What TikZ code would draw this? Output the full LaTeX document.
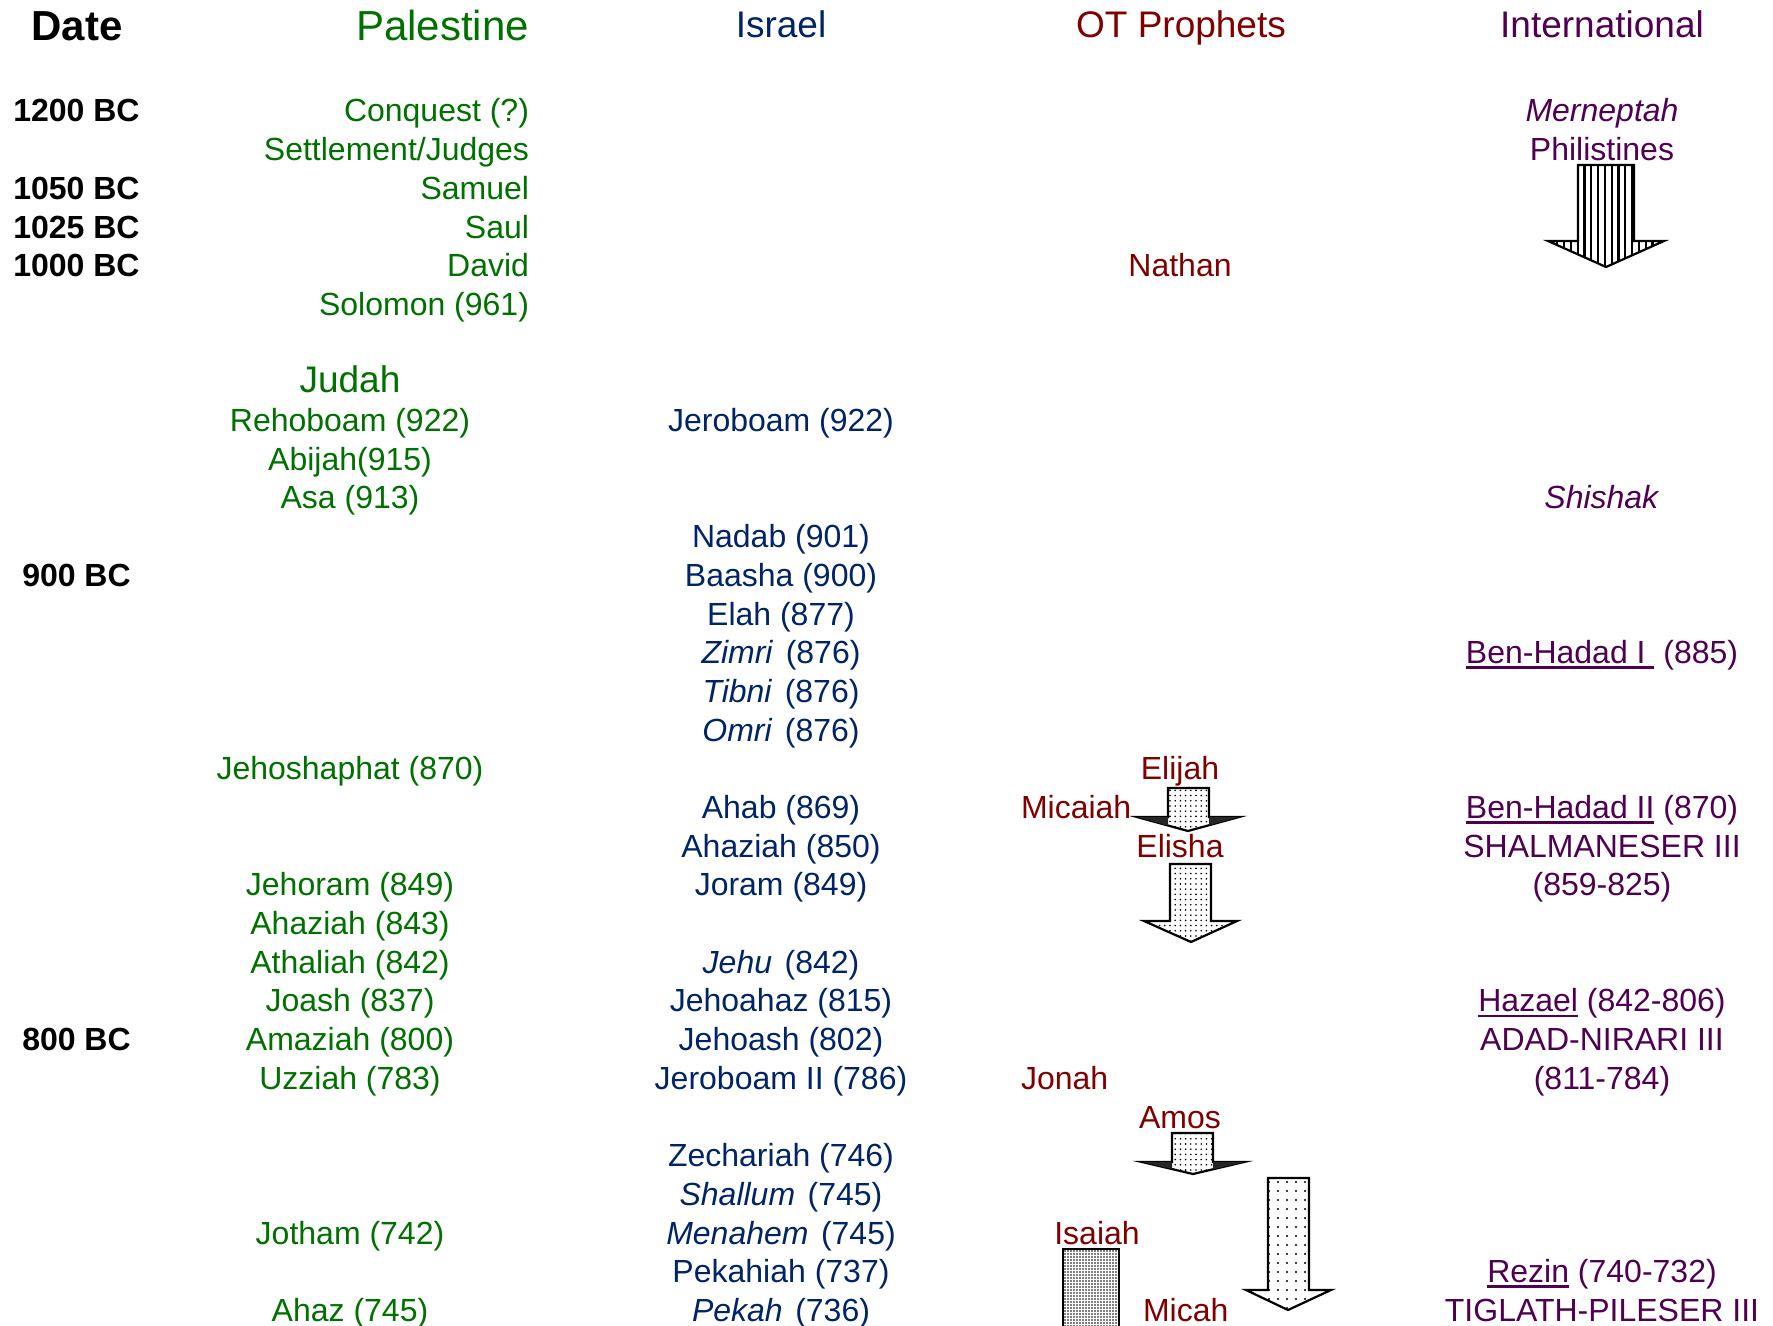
\documentclass[tikz,border=0pt]{standalone}
\usepackage{fontspec}
\setmainfont{Liberation Sans}
\usetikzlibrary{patterns,patterns.meta}
\definecolor{palc}{RGB}{0,112,0}
\definecolor{isrc}{RGB}{0,36,102}
\definecolor{proc}{RGB}{128,0,0}
\definecolor{intc}{RGB}{80,0,80}
\newsavebox\ulinbox
\newcommand\ulin[1]{\sbox\ulinbox{#1}\rlap{\rule[-2.6pt]{\wd\ulinbox}{1.3pt}}\usebox{\ulinbox}}
\newcommand\itn[1]{\textit{#1}\hspace{1.8pt}}
\newcommand\blkarrow[9]{%
  \path[#1] (#2,#4) -- (#3,#4) -- (#3,#5) -- (#7,#5) -- (#8,#9) -- (#6,#5) -- (#2,#5) -- cycle;}
\begin{document}
\begin{tikzpicture}[x=0.5pt,y=-0.5pt,
  txt/.style={inner sep=0pt, outer sep=0pt, font=\fontsize{16pt}{19pt}\selectfont},
  hdr/.style={inner sep=0pt, outer sep=0pt, anchor=base, font=\fontsize{18.5pt}{22pt}\selectfont},
  datec/.style={txt, anchor=base, text=black, font=\fontsize{16pt}{19pt}\selectfont\bfseries},
  palt/.style={txt, anchor=base east, text=palc},
  judt/.style={txt, anchor=base, text=palc},
  isrt/.style={txt, anchor=base, text=isrc},
  prot/.style={txt, anchor=base, text=proc},
  prol/.style={txt, anchor=base west, text=proc},
  intt/.style={txt, anchor=base, text=intc},
  arrowbase/.style={draw=black, line width=1.1pt, line join=miter, preaction={fill=white}},
  finedots/.style={arrowbase, pattern={Dots[distance=2.6pt,radius=0.45pt]}},
  sparsedots/.style={arrowbase, pattern={Dots[distance=4.5pt,radius=0.6pt]}},
  densedots/.style={arrowbase, pattern={Dots[distance=1.5pt,radius=0.4pt]}},
  stripes/.style={arrowbase, pattern={Lines[angle=90,distance=3.4pt,line width=1.1pt]}},
  wing/.style={fill=black!85}
]
\useasboundingbox (0,0) rectangle (1773,1326);

% headers
\node[hdr, font=\fontsize{21pt}{25pt}\selectfont\bfseries] (hdate) at (77,41) {Date};
\node[hdr, anchor=base east, text=palc, font=\fontsize{21pt}{25pt}\selectfont] (hpal) at (529,41) {Palestine};
\node[hdr, text=isrc] (hisr) at (781,37.5) {Israel};
\node[hdr, text=proc] (hpro) at (1181,37.5) {OT Prophets};
\node[hdr, text=intc] (hint) at (1602,37.5) {International};

% dates
\node[datec] (d1200) at (76.5,122.0) {1200 BC};
\node[datec] (d1050) at (76.5,199.4) {1050 BC};
\node[datec] (d1025) at (76.5,238.1) {1025 BC};
\node[datec] (d1000) at (76.5,276.8) {1000 BC};
\node[datec] (d900) at (76.5,586.3) {900 BC};
\node[datec] (d800) at (76.5,1050.6) {800 BC};

% Palestine
\node[palt] (p0) at (529,122.0) {Conquest (?)};
\node[palt] (p1) at (529,160.7) {Settlement/Judges};
\node[palt] (p2) at (529,199.4) {Samuel};
\node[palt] (p3) at (529,238.1) {Saul};
\node[palt] (p4) at (529,276.8) {David};
\node[palt] (p5) at (529,315.5) {Solomon (961)};

% Judah
\node[hdr, text=palc] (jhdr) at (350,392.8) {Judah};
\node[judt] (j8) at (350,431.5) {Rehoboam (922)};
\node[judt] (j9) at (350,470.2) {Abijah(915)};
\node[judt] (j10) at (350,508.9) {Asa (913)};
\node[judt] (j17) at (350,779.7) {Jehoshaphat (870)};
\node[judt] (j20) at (350,895.8) {Jehoram (849)};
\node[judt] (j21) at (350,934.5) {Ahaziah (843)};
\node[judt] (j22) at (350,973.2) {Athaliah (842)};
\node[judt] (j23) at (350,1011.9) {Joash (837)};
\node[judt] (j24) at (350,1050.6) {Amaziah (800)};
\node[judt] (j25) at (350,1089.3) {Uzziah (783)};
\node[judt] (j29) at (350,1244.0) {Jotham (742)};
\node[judt] (j31) at (350,1321.4) {Ahaz (745)};

% Israel
\node[isrt] (i8) at (781,431.5) {Jeroboam (922)};
\node[isrt] (i11) at (781,547.6) {Nadab (901)};
\node[isrt] (i12) at (781,586.3) {Baasha (900)};
\node[isrt] (i13) at (781,625.0) {Elah (877)};
\node[isrt] (i14) at (781,663.7) {\itn{Zimri} (876)};
\node[isrt] (i15) at (781,702.4) {\itn{Tibni} (876)};
\node[isrt] (i16) at (781,741.0) {\itn{Omri} (876)};
\node[isrt] (i18) at (781,818.4) {Ahab (869)};
\node[isrt] (i19) at (781,857.1) {Ahaziah (850)};
\node[isrt] (i20) at (781,895.8) {Joram (849)};
\node[isrt] (i22) at (781,973.2) {\itn{Jehu} (842)};
\node[isrt] (i23) at (781,1011.9) {Jehoahaz (815)};
\node[isrt] (i24) at (781,1050.6) {Jehoash (802)};
\node[isrt] (i25) at (781,1089.3) {Jeroboam II (786)};
\node[isrt] (i27) at (781,1166.6) {Zechariah (746)};
\node[isrt] (i28) at (781,1205.3) {\itn{Shallum} (745)};
\node[isrt] (i29) at (781,1244.0) {\itn{Menahem} (745)};
\node[isrt] (i30) at (781,1282.7) {Pekahiah (737)};
\node[isrt] (i31) at (781,1321.4) {\itn{Pekah} (736)};

% Prophets
\node[prot] (nathan) at (1180,276.8) {Nathan};
\node[prot] (elijah) at (1180,779.7) {Elijah};
\node[prol] (micaiah) at (1021,818.4) {Micaiah};
\node[prot] (elisha) at (1180,857.1) {Elisha};
\node[prol] (jonah) at (1021,1089.3) {Jonah};
\node[prot] (amos) at (1180,1128.0) {Amos};
\node[prot] (isaiah) at (1097,1244.0) {Isaiah};
\node[prol] (micah) at (1143,1321.4) {Micah};

% International
\node[intt] (n0) at (1602,122.0) {\textit{Merneptah}};
\node[intt] (n1) at (1602,160.7) {Philistines};
\node[intt] (n10) at (1602,508.9) {\textit{Shishak}};
\node[intt] (n14) at (1602,663.7) {\ulin{Ben-Hadad I\ } (885)};
\node[intt] (n18) at (1602,818.4) {\ulin{Ben-Hadad II} (870)};
\node[intt] (n19) at (1602,857.1) {SHALMANESER III};
\node[intt] (n20) at (1602,895.8) {(859-825)};
\node[intt] (n23) at (1602,1011.9) {\ulin{Hazael} (842-806)};
\node[intt] (n24) at (1602,1050.6) {ADAD-NIRARI III};
\node[intt] (n25) at (1602,1089.3) {(811-784)};
\node[intt] (n30) at (1602,1282.7) {\ulin{Rezin} (740-732)};
\node[intt] (n31) at (1602,1321.4) {TIGLATH-PILESER III};

% block arrows
\blkarrow{stripes}{1578}{1634}{165}{241}{1548}{1664}{1606}{267}
\blkarrow{finedots}{1168}{1209}{788}{817}{1137}{1239}{1188}{831}
\fill[wing] (1137,817) -- (1168,817) -- (1168,825.5) -- cycle;
\fill[wing] (1239,817) -- (1209,817) -- (1209,825.2) -- cycle;
\blkarrow{finedots}{1170}{1211}{864}{921}{1144}{1237}{1191}{942}
\blkarrow{finedots}{1172}{1213}{1133}{1162}{1142}{1244}{1193}{1174}
\fill[wing] (1142,1162) -- (1172,1162) -- (1172,1169) -- cycle;
\fill[wing] (1244,1162) -- (1213,1162) -- (1213,1169.3) -- cycle;
\blkarrow{sparsedots}{1268}{1309}{1178}{1290}{1246}{1331}{1288}{1310}
\path[densedots] (1063,1345) -- (1063,1249) -- (1119,1249) -- (1119,1345);
\end{tikzpicture}
\end{document}
